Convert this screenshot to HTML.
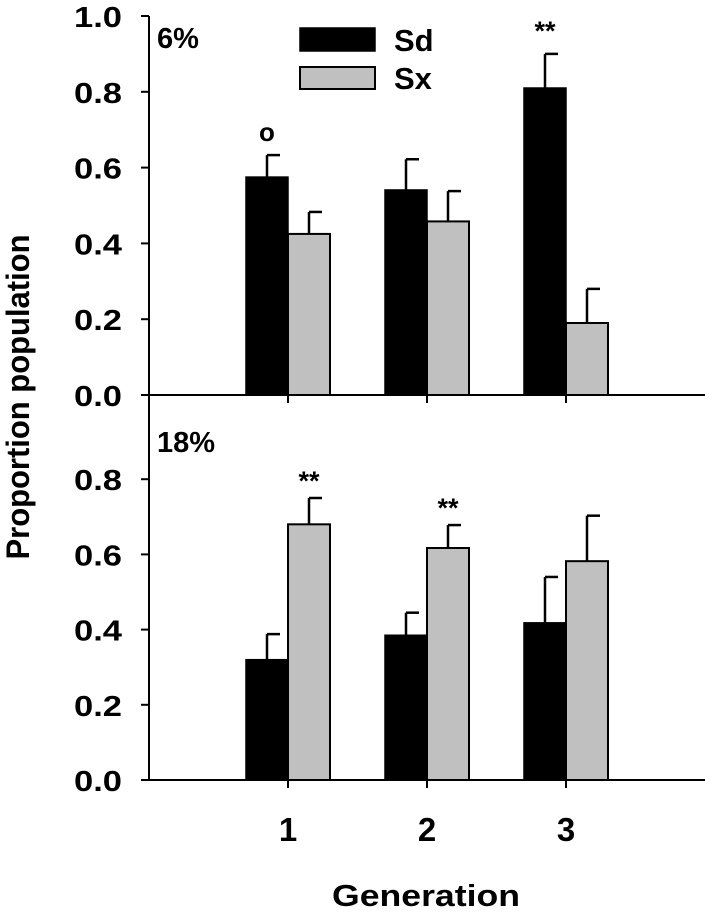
<!DOCTYPE html>
<html><head><meta charset="utf-8"><style>
body{margin:0;background:#fff;}
svg text{font-family:"Liberation Sans",Arial,sans-serif;font-weight:bold;fill:#000;}
</style></head><body>
<svg id="chart" width="709" height="913" viewBox="0 0 709 913" xmlns="http://www.w3.org/2000/svg"></svg>
<script>
const categories = ["1","2","3"];
const topSd = [0.575, 0.541, 0.81];
const topSdErr = [0.058, 0.081, 0.09];
const topSx = [0.425, 0.458, 0.19];
const topSxErr = [0.058, 0.08, 0.09];
const botSd = [0.32, 0.385, 0.418];
const botSdErr = [0.068, 0.06, 0.122];
const botSx = [0.68, 0.617, 0.582];
const botSxErr = [0.07, 0.061, 0.121];
const topYTicks = ["0.0","0.2","0.4","0.6","0.8","1.0"];
const botYTicks = ["0.0","0.2","0.4","0.6","0.8"];
const topMarksSd = ["o","","**"];
const topMarksSx = ["","",""];
const botMarksSd = ["","",""];
const botMarksSx = ["**","**",""];

const svg = document.getElementById('chart');
const NS = 'http://www.w3.org/2000/svg';
function mk(tag, attrs, parent){const e=document.createElementNS(NS,tag);for(const k in attrs)e.setAttribute(k,attrs[k]);(parent||svg).appendChild(e);return e;}
const axX = 149;
function xCenter(i){return 288 + i*139;}
const barW = 42;
function yTop(v){return 395 - v*379;}
function yBot(v){return 780 - v*376;}

function panel(name, yf, sd, sdE, sx, sxE, ticks, yZero, yMaxPx, label, labelY, sdMarks, sxMarks){
  const g = mk('g',{});
  
  
  const ya = mk('line',{x1:axX,y1:yMaxPx,x2:axX,y2:yZero+1,stroke:'#000','stroke-width':2},g);
  
  
  const xa = mk('line',{x1:axX-8,y1:yZero,x2:705,y2:yZero,stroke:'#000','stroke-width':2},g);
  
  
  ticks.forEach((t)=>{
    const y = yf(parseFloat(t));
    mk('line',{x1:axX-8,y1:y,x2:axX,y2:y,stroke:'#000','stroke-width':2},g);
    const tx = mk('text',{x:122,y:y+11,'text-anchor':'end','font-size':29,textLength:48,lengthAdjust:'spacingAndGlyphs'},g);
    tx.textContent = t;
    
    
  });
  categories.forEach((c,i)=>{
    const cx = xCenter(i);
    mk('line',{x1:cx,y1:yZero,x2:cx,y2:yZero+8,stroke:'#000','stroke-width':2},g);
    const ySd = yf(sd[i]), yE = yf(sd[i]+sdE[i]);
    mk('line',{x1:cx-barW/2,y1:ySd,x2:cx-barW/2,y2:yE,stroke:'#000','stroke-width':2.5},g);
    mk('line',{x1:cx-barW/2,y1:yE,x2:cx-barW/2+13,y2:yE,stroke:'#000','stroke-width':2.5},g);
    const b1 = mk('rect',{x:cx-barW,y:ySd,width:barW,height:yZero-ySd,fill:'#000',stroke:'#000','stroke-width':1.5},g);
    
    
    const ySx = yf(sx[i]), yE2 = yf(sx[i]+sxE[i]);
    mk('line',{x1:cx+barW/2,y1:ySx,x2:cx+barW/2,y2:yE2,stroke:'#000','stroke-width':2.5},g);
    mk('line',{x1:cx+barW/2,y1:yE2,x2:cx+barW/2+13,y2:yE2,stroke:'#000','stroke-width':2.5},g);
    const b2 = mk('rect',{x:cx,y:ySx,width:barW,height:yZero-ySx,fill:'#c0c0c0',stroke:'#000','stroke-width':2},g);
    
    
    if(sdMarks[i]){const m=mk('text',{x:cx-barW/2,y:yE-14,'text-anchor':'middle','font-size':sdMarks[i]=='o'?26:27},g);m.textContent=sdMarks[i];}
    if(sxMarks[i]){const m=mk('text',{x:cx+barW/2,y:yE2-8,'text-anchor':'middle','font-size':27},g);m.textContent=sxMarks[i];}
  });
  const lt = mk('text',{x:157,y:labelY,'font-size':29},g);
  lt.textContent = label;
  
  
}
panel('panel-6-percent', yTop, topSd, topSdErr, topSx, topSxErr, topYTicks, 395, 16, '6%', 48, topMarksSd, topMarksSx);
panel('panel-18-percent', yBot, botSd, botSdErr, botSx, botSxErr, botYTicks, 780, 395, '18%', 452, botMarksSd, botMarksSx);

categories.forEach((c,i)=>{
  const t = mk('text',{x:xCenter(i),y:841,'text-anchor':'middle','font-size':33});
  t.textContent = c;
  
  
});
const lg = mk('g',{});


mk('rect',{x:300,y:28,width:75,height:23,fill:'#000',stroke:'#000','stroke-width':1.5},lg);
mk('rect',{x:300,y:67,width:75,height:22,fill:'#c0c0c0',stroke:'#000','stroke-width':2},lg);
const l1 = mk('text',{x:394,y:51,'font-size':31},lg); l1.textContent='Sd';


const l2 = mk('text',{x:394,y:89,'font-size':31},lg); l2.textContent='Sx';


const yt = mk('text',{x:0,y:0,'text-anchor':'middle','font-size':32,textLength:325,lengthAdjust:'spacingAndGlyphs',transform:'translate(29,397) rotate(-90)'});
yt.textContent='Proportion population';


const xt = mk('text',{x:426,y:906,'text-anchor':'middle','font-size':31,textLength:188,lengthAdjust:'spacingAndGlyphs'});
xt.textContent='Generation';


</script>
</body></html>
